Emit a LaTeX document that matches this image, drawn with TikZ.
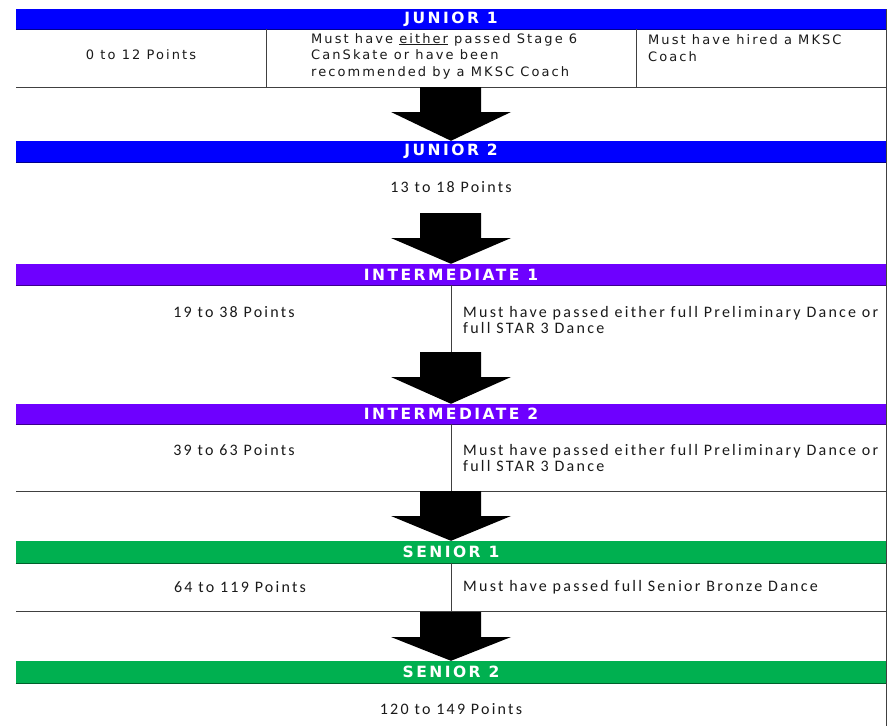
\documentclass[tikz,border=0pt]{standalone}
\usepackage{fontspec}
\newfontfamily\dvfont[LetterSpace=16]{DejaVu Sans}
\newfontfamily\hdfont[LetterSpace=16]{DejaVu Sans}
\newfontfamily\clfont[LetterSpace=14]{Carlito}
\usetikzlibrary{calc}
\definecolor{barblue}{HTML}{0000FF}
\definecolor{barpurple}{HTML}{6E00FF}
\definecolor{bargreen}{HTML}{00B050}
\definecolor{rulegray}{HTML}{404040}
\definecolor{txt}{HTML}{1A1A1A}
\newcommand\blockarrow[2]{%
  \fill[black] let \p1=(#1), \p2=(#2) in
  (\x1-31pt,\y1) -- (\x1+30pt,\y1) -- (\x1+30pt,\y1-25pt) -- (\x1+60pt,\y1-25pt)
  -- (\x2,\y2) -- (\x1-60pt,\y1-25pt) -- (\x1-31pt,\y1-25pt) -- cycle;}
\tikzset{
  bar/.style={rectangle, inner sep=0pt, minimum width=870pt, minimum height=#1,
    text=white, font=\hdfont\bfseries\fontsize{15.5}{16}\selectfont},
  barline/.style={line width=1pt},
  rule/.style={draw=rulegray, line width=1pt},
  vtext/.style={inner sep=0pt, text=txt, align=left,
    font=\dvfont\fontsize{13}{16.5}\selectfont},
  ctext/.style={inner sep=0pt, text=txt, align=left,
    font=\clfont\fontsize{16}{16.5}\selectfont},
}
\begin{document}
\begin{tikzpicture}[x=1pt,y=-1pt]
\useasboundingbox[fill=white] (0,0) rectangle (893,726);

% header bars
\node[bar=20pt, fill=barblue]   (j1) at (451,19)    {JUNIOR 1};
\node[bar=21pt, fill=barblue]   (j2) at (451,151.5) {JUNIOR 2};
\node[bar=21pt, fill=barpurple] (i1) at (451,274.5) {INTERMEDIATE 1};
\node[bar=20pt, fill=barpurple] (i2) at (451,414)   {INTERMEDIATE 2};
\node[bar=22pt, fill=bargreen]  (s1) at (451,552)   {SENIOR 1};
\node[bar=22pt, fill=bargreen]  (s2) at (451,672)   {SENIOR 2};
\foreach \b/\c in {j1/barblue, j2/barblue, i1/barpurple, i2/barpurple, s1/bargreen, s2/bargreen}{
  \draw[barline, draw=\c!55!black] (\b.south west) -- (\b.south east);
}

% table rules
\draw[rule] (16,87) -- (886,87);
\draw[rule] (266,29) -- (266,87);
\draw[rule] (636,29) -- (636,87);
\draw[rule] (451,285) -- (451,352);
\draw[rule] (451,424) -- (451,491);
\draw[rule] (16,491) -- (886,491);
\draw[rule] (451,563) -- (451,611);
\draw[rule] (16,611) -- (886,611);
\draw[rule] (886,9) -- (886,726);

% texts
\node[vtext] (p1) at (141,55) {0 to 12 Points};
\node[vtext, anchor=west] (r1a) at (311,56)
  {Must have \underline{either} passed Stage 6\\CanSkate or have been\\recommended by a MKSC Coach};
\node[vtext, anchor=west] (r1b) at (648,48) {Must have hired a MKSC\\Coach};
\node[ctext] (p2) at (451,187) {13 to 18 Points};
\node[ctext] (p3) at (234,312) {19 to 38 Points};
\node[ctext, anchor=west] (r3) at (463,320)
  {Must have passed either full Preliminary Dance or\\full STAR 3 Dance};
\node[ctext] (p4) at (234,450) {39 to 63 Points};
\node[ctext, anchor=west] (r4) at (463,458)
  {Must have passed either full Preliminary Dance or\\full STAR 3 Dance};
\node[ctext] (p5) at (240,587) {64 to 119 Points};
\node[ctext, anchor=west] (r5) at (463,587) {Must have passed full Senior Bronze Dance};
\node[ctext] (p6) at (451,709) {120 to 149 Points};

% block arrows
\coordinate (a1) at (451,87);
\coordinate (a2) at (451,213);
\coordinate (a3) at (451,352);
\coordinate (a4) at (451,491);
\coordinate (a5) at (451,612);
\blockarrow{a1}{j2.north}
\blockarrow{a2}{i1.north}
\blockarrow{a3}{i2.north}
\blockarrow{a4}{s1.north}
\blockarrow{a5}{s2.north}
\end{tikzpicture}
\end{document}
